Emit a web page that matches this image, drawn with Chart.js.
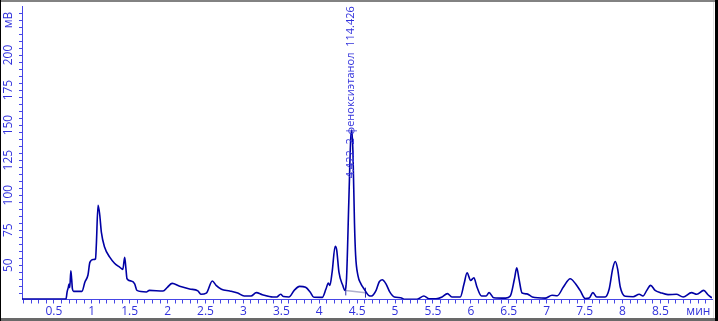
<!DOCTYPE html>
<html>
<head>
<meta charset="utf-8">
<script src="https://cdn.jsdelivr.net/npm/chart.js@4"></script>
<style>
    html, body { margin: 0; padding: 0; background: #fff; }
    #wrap { width: 718px; height: 321px; position: relative; }
</style>
</head>
<body>
<div id="wrap"><canvas id="chrom"></canvas></div>
<script>
// Retention time (min) and detector signal (mV)
const TIME = [
    0.08, 0.66, 0.675, 0.69, 0.70, 0.71, 0.724, 0.735, 0.745, 0.76, 0.87, 0.91, 0.95, 0.975,
    1.02, 1.05, 1.06, 1.083, 1.105, 1.127, 1.17, 1.237, 1.30, 1.368, 1.41, 1.434, 1.45, 1.465,
    1.52, 1.566, 1.596, 1.72, 1.76, 1.94, 2.0, 2.06, 2.16, 2.29, 2.40, 2.44, 2.51, 2.59, 2.64,
    2.71, 2.82, 2.925, 3.01, 3.10, 3.17, 3.25, 3.39, 3.44, 3.49, 3.53, 3.60, 3.67, 3.74, 3.82,
    3.88, 3.93, 4.04, 4.09, 4.12, 4.14, 4.17, 4.21, 4.23, 4.26, 4.31, 4.34, 4.36, 4.39, 4.415,
    4.43, 4.445, 4.465, 4.48, 4.51, 4.55, 4.59, 4.65, 4.69, 4.75, 4.79, 4.83, 4.88, 4.93, 4.99,
    5.075, 5.12, 5.29, 5.38, 5.45, 5.54, 5.62, 5.69, 5.75, 5.86, 5.91, 5.95, 5.996, 6.04, 6.08,
    6.14, 6.20, 6.24, 6.30, 6.46, 6.52, 6.575, 6.605, 6.635, 6.675, 6.74, 6.81, 6.98, 7.07, 7.14,
    7.22, 7.31, 7.38, 7.44, 7.51, 7.56, 7.61, 7.66, 7.77, 7.825, 7.87, 7.904, 7.935, 7.97, 8.035,
    8.14, 8.22, 8.27, 8.32, 8.37, 8.43, 8.50, 8.60, 8.71, 8.80, 8.91, 8.98, 9.07, 9.13, 9.18
];
const SIGNAL = [
    25.8, 25.8, 31, 34, 36.5, 34, 46, 40, 33, 31.3, 31.3, 38, 43, 52,
    54, 54.5, 64, 92.8, 86, 73.4, 62.8, 55.7, 51.4, 48.6, 47, 55.7, 48, 40.3,
    38.7, 36.7, 32, 30.9, 32, 31.6, 34.4, 37, 35, 33, 31.6, 29.2, 30, 38.7, 35.6,
    32.8, 31.6, 30.1, 28, 28, 30.4, 28.9, 27.3, 27.3, 29.2, 27.6, 27.3, 32, 34.9, 34.2,
    30.9, 27.1, 27, 33.2, 37.2, 35.6, 45, 63.5, 61, 45, 35.6, 32, 40.3, 95, 140,
    146.5, 130, 80, 57, 42.7, 36.7, 33.2, 28.5, 28, 32, 38, 39.6, 36.7, 30.9, 27.3,
    26.8, 25.7, 25.7, 28, 26, 26, 27.3, 29.7, 27.3, 27.3, 36.7, 44.6, 39.1, 41, 34.4,
    28, 28, 30.4, 26.8, 26.5, 28, 40.3, 48.1, 40, 30.1, 29.5, 27.3, 26.5, 28.5, 28.2,
    34.4, 40.3, 36.7, 32, 26.1, 26.5, 30.4, 27.3, 27.3, 33.2, 47.4, 52.6, 47.4, 34.4, 27.8,
    27.5, 29.2, 28, 32, 35.6, 32, 30.4, 29, 29.2, 27.3, 30.4, 29.2, 32, 28.7, 26.6
];

// integration baseline under the main peak
const BASE_TIME = [4.35, 4.61];
const BASE_SIGNAL = [32, 30.4];

// peak annotation
const PEAK_LABEL = '4.422  2-феноксиэтанол  114.426';
const PEAK_TIME = 4.422;
const PEAK_LABEL_Y = 112;

const X_MIN = 0.08, X_MAX = 9.18;
const Y_MIN = 25.5, Y_MAX = 235;

const AXIS_COLOR = 'rgb(70, 70, 230)';
const LABEL_COLOR = 'rgb(50, 50, 220)';
const TRACE_COLOR = 'rgb(0, 0, 165)';
const FONT = '"Open Sans", "DejaVu Sans", sans-serif';

const range = (from, to, step) => {
    const out = [];
    for (let v = from; v <= to + 1e-9; v += step) out.push(Math.round(v * 100) / 100);
    return out;
};

// rotated y labels + peak label + window frame
const drawExtras = {
    id: 'drawExtras',
    afterDraw(chart) {
        const { ctx, scales: { x, y } } = chart;
        ctx.save();
        ctx.fillStyle = LABEL_COLOR;
        ctx.font = '12px ' + FONT;
        ctx.textAlign = 'center';
        ctx.textBaseline = 'middle';
        y.ticks.forEach(t => {
            let text = '';
            if (t.value === 225) text = 'мВ';
            else if (t.value % 25 === 0) text = String(t.value);
            if (!text) return;
            ctx.save();
            ctx.translate(9, y.getPixelForValue(t.value));
            ctx.rotate(-Math.PI / 2);
            ctx.fillText(text, 0, 0);
            ctx.restore();
        });

        // peak label, written bottom-to-top
        ctx.save();
        ctx.font = '11px ' + FONT;
        ctx.textAlign = 'left';
        ctx.translate(x.getPixelForValue(PEAK_TIME), y.getPixelForValue(PEAK_LABEL_Y));
        ctx.rotate(-Math.PI / 2);
        ctx.fillText(PEAK_LABEL, 0, 0);
        ctx.restore();

        // frame
        const w = chart.width, h = chart.height;
        ctx.fillStyle = 'rgb(130,130,130)';
        ctx.fillRect(0, 0, w, 2);
        ctx.fillStyle = 'rgb(105,105,105)';
        ctx.fillRect(0, h - 3, w, 3);
        ctx.fillStyle = '#000';
        ctx.fillRect(0, 0, 1, h);
        ctx.fillRect(w - 3, 0, 3, h);
        ctx.fillStyle = 'rgb(225,225,225)';
        ctx.fillRect(w - 5, 2, 1, h - 5);
        ctx.restore();
    }
};

const ctx = document.getElementById('chrom').getContext('2d');
new Chart(ctx, {
    type: 'line',
    data: {
        datasets: [
            {
                label: 'signal',
                data: TIME.map((t, i) => ({ x: t, y: SIGNAL[i] })),
                borderColor: TRACE_COLOR,
                borderWidth: 1.6,
                pointRadius: 0,
                cubicInterpolationMode: 'monotone'
            },
            {
                label: 'baseline',
                data: BASE_TIME.map((t, i) => ({ x: t, y: BASE_SIGNAL[i] })),
                borderColor: 'rgb(175, 175, 205)',
                borderWidth: 1.5,
                pointStyle: 'line',
                rotation: 90,
                pointRadius: 5,
                pointBorderColor: 'rgb(40, 40, 170)',
                pointBorderWidth: 1
            }
        ]
    },
    options: {
        responsive: true,
        maintainAspectRatio: false,
        animation: false,
        layout: { padding: { left: 1, top: 2, right: 4, bottom: 3 } },
        plugins: {
            legend: { display: false },
            tooltip: { enabled: false }
        },
        scales: {
            x: {
                type: 'linear',
                min: X_MIN,
                max: X_MAX,
                afterBuildTicks: scale => {
                    scale.ticks = range(0.1, 9.1, 0.1).map(v => ({ value: v }));
                },
                afterFit: scale => { scale.height = 18.5; },
                border: { color: AXIS_COLOR, width: 1 },
                grid: { drawOnChartArea: false, tickLength: 4, color: AXIS_COLOR },
                ticks: {
                    autoSkip: false,
                    maxRotation: 0,
                    padding: 1,
                    color: LABEL_COLOR,
                    font: { family: FONT, size: 12 },
                    callback: v => {
                        if (Math.abs(v - 9) < 1e-6) return 'мин';
                        return Math.abs(v * 2 - Math.round(v * 2)) < 1e-6 ? String(v) : '';
                    }
                }
            },
            y: {
                type: 'linear',
                min: Y_MIN,
                max: Y_MAX,
                afterBuildTicks: scale => {
                    scale.ticks = range(30, 230, 5).map(v => ({ value: v }));
                },
                afterFit: scale => { scale.width = 21; },
                border: { color: AXIS_COLOR, width: 1 },
                grid: { drawOnChartArea: false, tickLength: 3, color: AXIS_COLOR },
                ticks: { display: false }
            }
        }
    },
    plugins: [drawExtras]
});
</script>
</body>
</html>
